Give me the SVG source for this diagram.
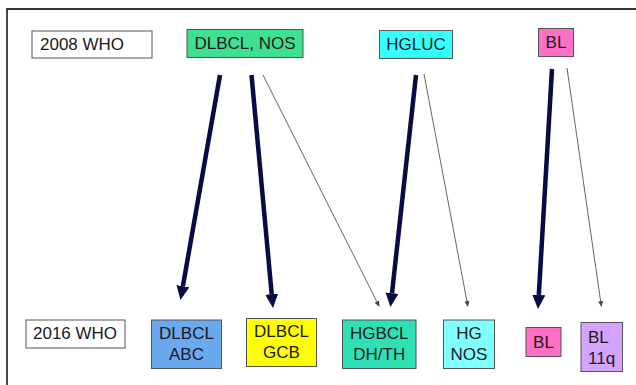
<svg xmlns="http://www.w3.org/2000/svg" width="636" height="385" viewBox="0 0 636 385">
<style>
  text { font-family: "Liberation Sans", Arial, sans-serif; font-size: 17px; fill: #1a1a1a; }
  .box { stroke: #555; stroke-width: 1; }
  .thick { stroke: #0a0a45; stroke-width: 4.5; fill: none; }
  .thin { stroke: #666; stroke-width: 1; fill: none; }
</style>
<defs>
  <marker id="headBig" markerUnits="userSpaceOnUse" markerWidth="16" markerHeight="14" refX="0" refY="6.5" orient="auto">
    <path d="M0,0 L14,6.5 L0,13 z" fill="#0a0a45"/>
  </marker>
  <marker id="headSmall" markerUnits="userSpaceOnUse" markerWidth="8" markerHeight="6" refX="0" refY="2.5" orient="auto">
    <path d="M0,0 L6,2.5 L0,5 z" fill="#444"/>
  </marker>
</defs>
<rect width="636" height="385" fill="#ffffff"/>
<path d="M7,385 V9 H636" fill="none" stroke="#333" stroke-width="1.8"/>

<g id="who2008"><rect class="box" x="32" y="31" width="120" height="27" fill="#fff"/><text x="40" y="50" font-size="16">2008 WHO</text></g>
<g id="dlbcl-nos"><rect class="box" x="187" y="29.5" width="116" height="28" fill="#40e093"/><text x="245" y="49" text-anchor="middle">DLBCL, NOS</text></g>
<g id="hgluc"><rect class="box" x="379.5" y="30.5" width="73" height="28" fill="#33ffff"/><text x="416" y="50" text-anchor="middle">HGLUC</text></g>
<g id="bl2008"><rect class="box" x="538.5" y="28.5" width="35" height="28" fill="#ff6ec7"/><text x="556" y="48" text-anchor="middle">BL</text></g>

<g id="who2016"><rect class="box" x="26" y="320" width="99" height="28" fill="#fff"/><text x="33" y="339" font-size="16">2016 WHO</text></g>
<g id="dlbcl-abc"><rect class="box" x="151.5" y="320" width="70" height="48.5" fill="#6aa8ef"/><text x="186.5" y="339" text-anchor="middle">DLBCL</text><text x="186.5" y="360" text-anchor="middle">ABC</text></g>
<g id="dlbcl-gcb"><rect class="box" x="246.5" y="318.5" width="70" height="48" fill="#ffff00"/><text x="281.5" y="337" text-anchor="middle">DLBCL</text><text x="281.5" y="358" text-anchor="middle">GCB</text></g>
<g id="hgbcl"><rect class="box" x="342.5" y="320" width="73.5" height="48.5" fill="#2ee0b5"/><text x="379.3" y="339" text-anchor="middle">HGBCL</text><text x="379.3" y="360" text-anchor="middle">DH/TH</text></g>
<g id="hg-nos"><rect class="box" x="443.5" y="320" width="51" height="48.5" fill="#80ffff"/><text x="469" y="339" text-anchor="middle">HG</text><text x="469" y="360" text-anchor="middle">NOS</text></g>
<g id="bl2016"><rect class="box" x="526" y="327.5" width="35" height="29" fill="#ff6ec7"/><text x="543.5" y="348" text-anchor="middle">BL</text></g>
<g id="bl11q"><rect class="box" x="581" y="322.5" width="41.5" height="49" fill="#d4a2ff"/><text x="588" y="343">BL</text><text x="588" y="364">11q</text></g>

<g id="connectors">
  <line class="thick" x1="220" y1="75" x2="182.9" y2="286.2" marker-end="url(#headBig)"/>
  <line class="thick" x1="251.5" y1="75" x2="271.7" y2="294.1" marker-end="url(#headBig)"/>
  <line class="thick" x1="416" y1="75" x2="392.0" y2="293.1" marker-end="url(#headBig)"/>
  <line class="thick" x1="552" y1="69" x2="538.8" y2="295.0" marker-end="url(#headBig)"/>
  <line class="thin" x1="263" y1="75" x2="376.8" y2="301.6" marker-end="url(#headSmall)"/>
  <line class="thin" x1="424" y1="74" x2="466.9" y2="301.1" marker-end="url(#headSmall)"/>
  <line class="thin" x1="567" y1="68" x2="600.6" y2="301.1" marker-end="url(#headSmall)"/>
</g>
</svg>
